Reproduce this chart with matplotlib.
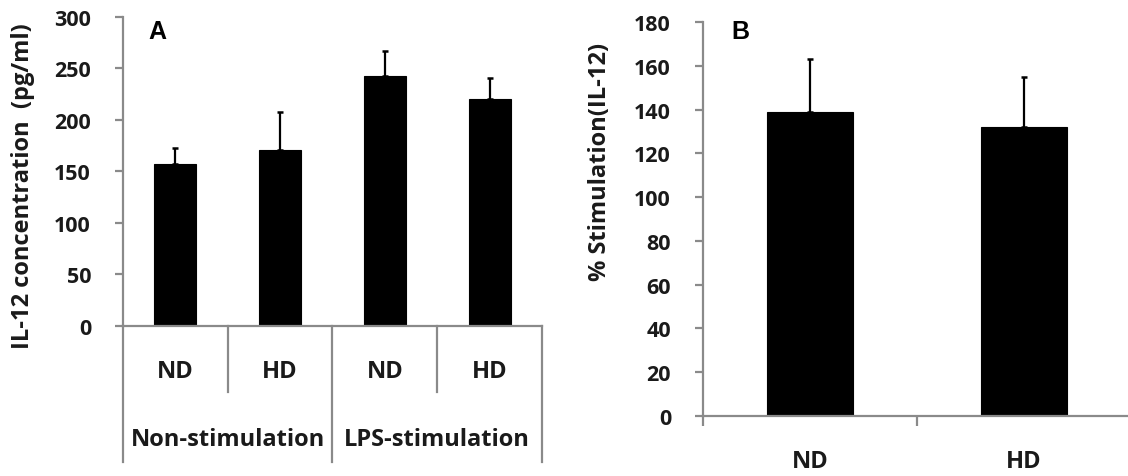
import matplotlib
matplotlib.use("Agg")
import matplotlib.pyplot as plt
import matplotlib.transforms as mtransforms

# ---- data ----
a_groups = ["Non-stimulation", "LPS-stimulation"]
a_cats = ["ND", "HD", "ND", "HD"]
a_values = [157, 171, 243, 220]
a_errors = [16, 37, 24, 21]

b_cats = ["ND", "HD"]
b_values = [139, 132]
b_errors = [24, 23]

a_yticks = [0, 50, 100, 150, 200, 250, 300]
b_yticks = [0, 20, 40, 60, 80, 100, 120, 140, 160, 180]

# ---- style ----
FONT = ["Open Sans", "DejaVu Sans"]
plt.rcParams["font.family"] = FONT
plt.rcParams["font.weight"] = "bold"
AXC = "#8a8a8a"
TXT = "#1a1a1a"

fig = plt.figure(figsize=(11.28, 4.77), dpi=100)

def style_axes(ax, ylim, yticks):
    for s in ["top", "right"]:
        ax.spines[s].set_visible(False)
    for s in ["left", "bottom"]:
        ax.spines[s].set_color(AXC)
        ax.spines[s].set_linewidth(1.6)
    ax.set_ylim(*ylim)
    ax.set_yticks(yticks)
    ax.tick_params(axis="y", direction="out", length=6, width=1.6, color=AXC,
                   pad=17, labelsize=15.5, labelcolor=TXT)
    for lab in ax.get_yticklabels():
        lab.set_fontweight("bold")

# ---- Panel A ----
axA = fig.add_axes([0.1090, 0.3145, 0.3715, 0.6478])
xa = list(range(len(a_values)))
axA.bar(xa, a_values, width=0.4, color="black", edgecolor="black", linewidth=0.8, zorder=2)
axA.errorbar(xa, a_values, yerr=[[0] * len(a_errors), a_errors], fmt="none",
             ecolor="black", elinewidth=1.6, capsize=2.5, capthick=1.8, zorder=3)
axA.set_xlim(-0.5, len(a_values) - 0.5)
style_axes(axA, (0, 300), a_yticks)
axA.set_xticks([])
trA = mtransforms.blended_transform_factory(axA.transData, axA.transAxes)
for x, lab in zip(xa, a_cats):
    axA.text(x, -0.146, lab, transform=trA, ha="center", va="center",
             fontsize=17, fontweight="bold", color=TXT)
for gi, g in enumerate(a_groups):
    axA.text(gi * 2 + 0.5, -0.366, g, transform=trA, ha="center", va="center",
             fontsize=17, fontweight="bold", color=TXT)
# separators
for xs in [0.5, 2.5]:
    axA.plot([xs, xs], [0, -0.214], transform=trA, color=AXC, lw=1.6, clip_on=False)
for xs in [-0.5, 1.5, 3.5]:
    axA.plot([xs, xs], [0, -0.44], transform=trA, color=AXC, lw=1.6, clip_on=False)
axA.text(0.083, 0.955, "A", transform=axA.transAxes, ha="center", va="center",
         fontsize=18, fontweight="bold", family=["Liberation Sans", "DejaVu Sans"], color="black")

fig.text(23 / 1128, 1 - 186 / 477, "IL-12 concentration  (pg/ml)", rotation=90,
         ha="center", va="center", fontsize=17, fontweight="bold", color=TXT)

# ---- Panel B ----
axB = fig.add_axes([0.6232, 0.1258, 0.3794, 0.8260])
xb = list(range(len(b_values)))
axB.bar(xb, b_values, width=0.4, color="black", edgecolor="black", linewidth=0.8, zorder=2)
axB.errorbar(xb, b_values, yerr=[[0] * len(b_errors), b_errors], fmt="none",
             ecolor="black", elinewidth=1.6, capsize=2.5, capthick=1.8, zorder=3)
axB.set_xlim(-0.5, len(b_values) - 0.5)
style_axes(axB, (0, 180), b_yticks)
axB.set_xticks([-0.5, 0.5, 1.5])
axB.set_xticklabels([])
axB.tick_params(axis="x", direction="out", length=7, width=1.6, color=AXC)
trB = mtransforms.blended_transform_factory(axB.transData, axB.transAxes)
for x, lab in zip(xb, b_cats):
    axB.text(x, -0.114, lab, transform=trB, ha="center", va="center",
             fontsize=17, fontweight="bold", color=TXT)
axB.text(0.087, 0.977, "B", transform=axB.transAxes, ha="center", va="center",
         fontsize=18, fontweight="bold", family=["Liberation Sans", "DejaVu Sans"], color="black")

fig.text(600 / 1128, 1 - 162 / 477, "% Stimulation(IL-12)", rotation=90,
         ha="center", va="center", fontsize=17, fontweight="bold", color=TXT)

fig.savefig("out.png", dpi=100, facecolor="white")
